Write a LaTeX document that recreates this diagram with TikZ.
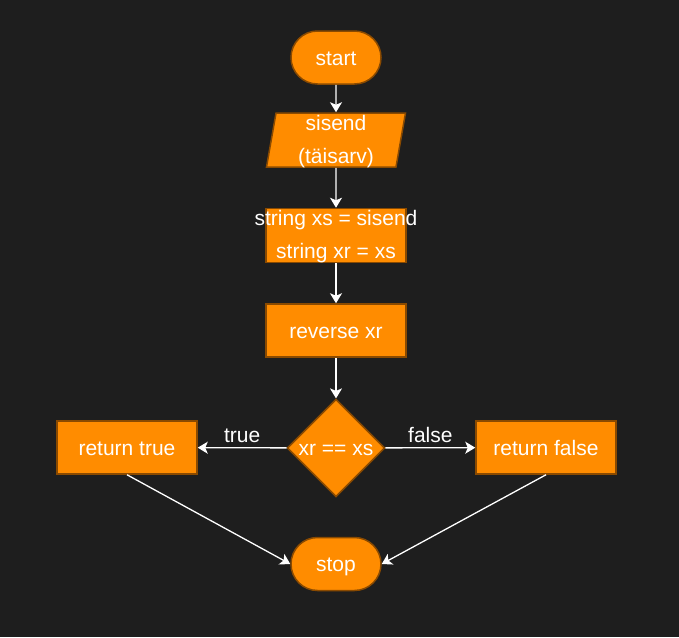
\documentclass[tikz,border=0pt]{standalone}
\usepackage{fontspec}
\setmainfont{Liberation Sans}
\usepackage{xcolor}
\usetikzlibrary{shapes, arrows.meta, positioning, calc}
\definecolor{bgdark}{HTML}{1E1E1E}
\definecolor{boxorange}{HTML}{FF8C00}
\definecolor{boxedge}{HTML}{8A4A00}

\begin{document}
\begin{tikzpicture}[x=1pt, y=-1pt, text=white,
    font=\fontsize{21}{33}\selectfont,
    blk/.style={draw=boxedge, fill=boxorange, line width=1.5pt, minimum width=140pt, minimum height=53pt, inner sep=0pt, text height=19pt, text depth=4pt},
    twoline/.style={align=center, text height=50pt},
    term/.style={blk, rounded rectangle, minimum width=90pt},
    io/.style={blk, trapezium, trapezium left angle=80, trapezium right angle=100, trapezium stretches body, minimum width=139pt, minimum height=54pt},
    cond/.style={blk, diamond, minimum width=97pt, minimum height=96pt},
    flow/.style={draw=white, line width=1.3pt, -{Stealth[width=12pt,length=10pt,inset=2.5pt]}},
    lbl/.style={inner sep=4pt}]
    \fill[bgdark] (0,0) rectangle (679,637);

    \coordinate (C1) at (336,57.5);
    \coordinate (C2) at (336,140);
    \coordinate (C3) at (336,235.5);
    \coordinate (C4) at (336,330.5);
    \coordinate (C5) at (336,448);
    \coordinate (C6) at (336,564);

    \node[term] (start) at (C1) {start};
    \node[io, twoline] (input) at (C2) {sisend\\(täisarv)};
    \node[blk, twoline] (init) at (C3) {\makebox[0pt]{string xs = sisend}\\\makebox[0pt]{string xr = xs}};
    \node[blk] (rev) at (C4) {reverse xr};
    \node[cond] (check) at (C5) {xr == xs};
    \node[blk] (rtrue) at (127,447.5) {return true};
    \node[blk] (rfalse) at (546,447.5) {return false};
    \node[term] (stop) at (C6) {stop};

    \draw[flow] (start) -- (input);
    \draw[flow] (input) -- (init);
    \draw[flow] (init) -- (rev);
    \draw[flow] (rev) -- (check);
    \draw[flow] (check) -- node[above, lbl] {true} (rtrue);
    \draw[flow] (check) -- node[above, lbl] {false} (rfalse);
    \draw[flow] (rtrue.south) -- (stop.west);
    \draw[flow] (rfalse.south) -- (stop.east);
  \end{tikzpicture}
\end{document}
